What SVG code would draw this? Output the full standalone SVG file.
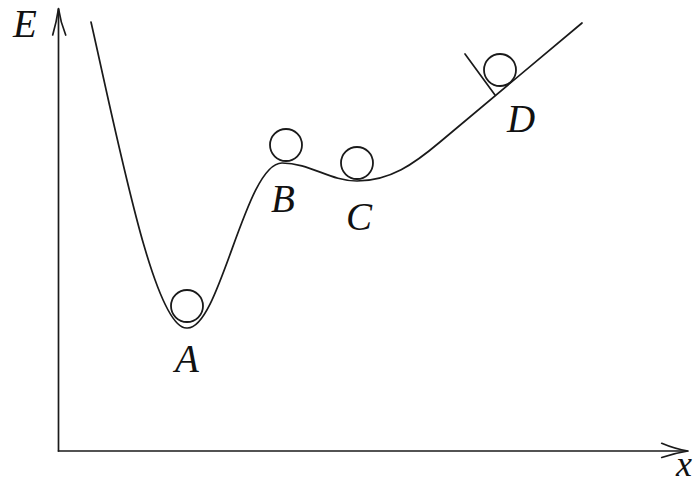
<svg xmlns="http://www.w3.org/2000/svg" width="697" height="484" viewBox="0 0 697 484">
<style>
.ln{fill:none;stroke:#1a1a1a;stroke-width:1.7;stroke-linecap:round;stroke-linejoin:round}
.ball{fill:none;stroke:#1a1a1a;stroke-width:1.8}
.lbl{font-family:"Liberation Serif","DejaVu Serif",serif;font-style:italic;font-size:39px;fill:#111}
</style>
<rect width="697" height="484" fill="#fff"/>
<g id="axes">
<path class="ln" d="M58.5,451 L58.5,9"/>
<path class="ln" d="M52.7,35 Q56.5,22 58.5,8.5 Q60.5,22 65.7,35"/>
<path class="ln" d="M58.5,451 L687,451"/>
<path class="ln" d="M661.7,443.3 Q675,449 688,451 Q675,453 661.7,457.5"/>
<text class="lbl" x="13" y="37">E</text>
<text class="lbl" x="676" y="476" style="font-size:36px">x</text>
</g>
<g id="connectors">
<path id="curve" class="ln" d="M91,22 C120,150 155,330 187,328 C220,330 245,163 282,163 C310,163 330,181 357,181 C390,181 414,164 440,142 L582,23"/>
<path id="wall" class="ln" d="M465,54 L495,95"/>
</g>
<g id="A"><circle class="ball" cx="187" cy="306" r="16"/><text class="lbl" x="187" y="372" text-anchor="middle">A</text></g>
<g id="B"><circle class="ball" cx="286" cy="145" r="16"/><text class="lbl" x="283" y="212" text-anchor="middle">B</text></g>
<g id="C"><circle class="ball" cx="357" cy="163" r="16"/><text class="lbl" x="359" y="230" text-anchor="middle">C</text></g>
<g id="D"><circle class="ball" cx="500" cy="70" r="16"/><text class="lbl" x="521" y="132" text-anchor="middle">D</text></g>
</svg>
